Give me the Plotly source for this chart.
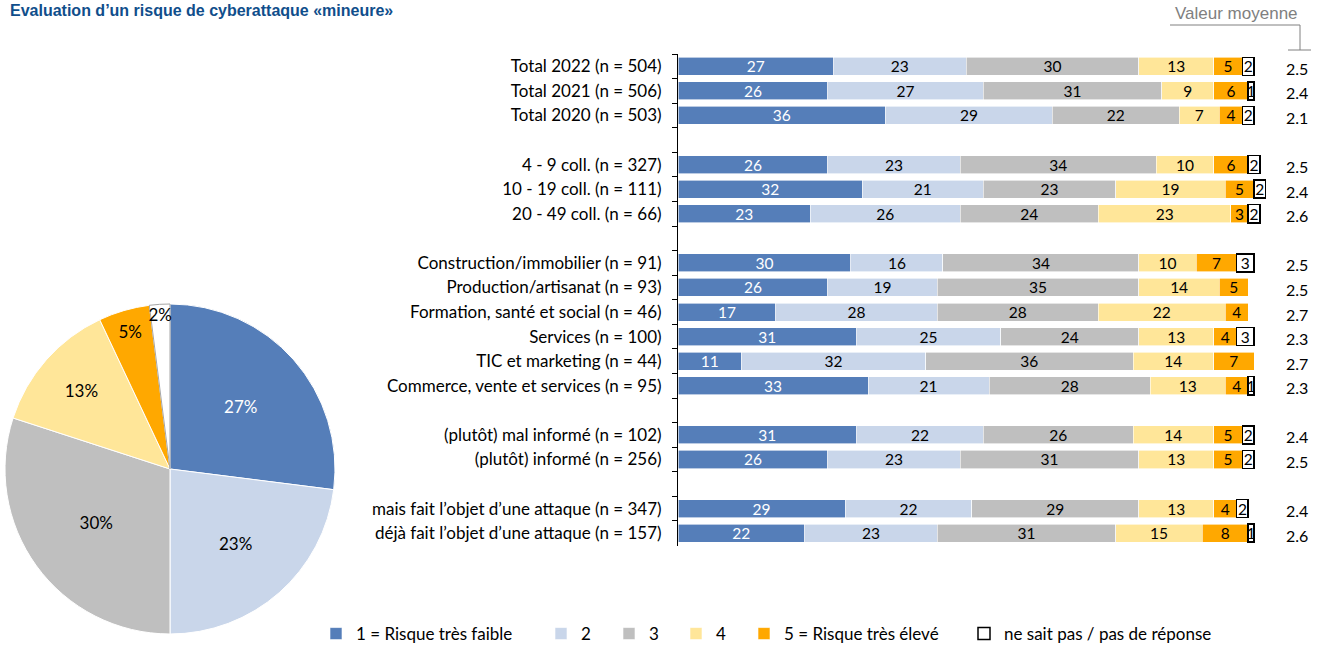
import plotly.graph_objects as go

W, H = 1317, 652

# --- données -------------------------------------------------------------
categories = [
    "Total 2022 (n = 504)", "Total 2021 (n = 506)", "Total 2020 (n = 503)", " ",
    "4 - 9 coll. (n = 327)", "10 - 19 coll. (n = 111)", "20 - 49 coll. (n = 66)", "  ",
    "Construction/immobilier (n = 91)", "Production/artisanat (n = 93)",
    "Formation, santé et social (n = 46)", "Services (n = 100)",
    "TIC et marketing (n = 44)", "Commerce, vente et services (n = 95)", "   ",
    "(plutôt) mal informé (n = 102)", "(plutôt) informé (n = 256)", "    ",
    "mais fait l’objet d’une attaque (n = 347)", "déjà fait l’objet d’une attaque (n = 157)",
]
rows = [c for c in categories if c.strip()]

s1 = [27, 26, 36, 26, 32, 23, 30, 26, 17, 31, 11, 33, 31, 26, 29, 22]
s2 = [23, 27, 29, 23, 21, 26, 16, 19, 28, 25, 32, 21, 22, 23, 22, 23]
s3 = [30, 31, 22, 34, 23, 24, 34, 35, 28, 24, 36, 28, 26, 31, 29, 31]
s4 = [13, 9, 7, 10, 19, 23, 10, 14, 22, 13, 14, 13, 14, 13, 13, 15]
s5 = [5, 6, 4, 6, 5, 3, 7, 5, 4, 4, 7, 4, 5, 5, 4, 8]
s6 = [2, 1, 2, 2, 2, 2, 3, None, None, 3, None, 1, 2, 2, 2, 1]
moyennes = [2.5, 2.4, 2.1, 2.5, 2.4, 2.6, 2.5, 2.5, 2.7, 2.3, 2.7, 2.3, 2.4, 2.5, 2.4, 2.6]

noms = ["1 = Risque très faible", "2", "3", "4", "5 = Risque très élevé",
        "ne sait pas / pas de réponse"]
couleurs = ["#557EB9", "#C9D6EA", "#BFBFBF", "#FFE699", "#FFA800", "#FFFFFF"]
txt_couleurs = ["white", "black", "black", "black", "black", "black"]

pie_valeurs = [27, 23, 30, 13, 5, 2]

FONT = "Lato"
X0, PX_PAR_PCT = 678, 5.76   # début des barres, pixels pour 1 %
XMAX = 102.5                  # certaines lignes arrondies dépassent 100

def px_x(p):
    return p / W

def px_y(p):
    return 1 - p / H

fig = go.Figure()

legend_x = [332, 557, 625, 692, 760, 980]
for i, (serie, nom, col) in enumerate(zip([s1, s2, s3, s4, s5, s6], noms, couleurs)):
    dk = i == 5
    fig.add_trace(go.Bar(
        y=rows, x=serie, orientation="h", name=nom,
        marker=dict(color=col, line=dict(color="black" if dk else "white",
                                         width=1.5 if dk else 0.6)),
        text=serie, texttemplate="%{x}", textposition="inside",
        insidetextanchor="middle", constraintext="none", textangle=0,
        textfont=dict(family=FONT, size=15.5, color=txt_couleurs[i]),
        cliponaxis=False, hoverinfo="skip",
        legend="legend" if i == 0 else f"legend{i + 1}",
    ))

fig.add_trace(go.Pie(
    values=pie_valeurs, labels=noms, sort=False, direction="clockwise",
    domain=dict(x=[px_x(5), px_x(335)], y=[px_y(634), px_y(304)]),
    marker=dict(colors=couleurs,
                line=dict(color=["white"] * 5 + ["#A6A6A6"], width=1)),
    texttemplate="%{value}%", textposition="inside",
    insidetextorientation="horizontal",
    textfont=dict(family=FONT, size=17, color=txt_couleurs),
    showlegend=False, hoverinfo="skip",
))

# valeurs moyennes
for cat, m in zip(rows, moyennes):
    fig.add_annotation(x=px_x(1297), xref="paper", xanchor="center", y=cat, yref="y",
                       yanchor="middle", text=f"{m:.1f}", showarrow=False, yshift=-2,
                       font=dict(family=FONT, size=16, color="black"))

fig.add_annotation(x=px_x(1236), xref="paper", xanchor="center", y=px_y(14), yref="paper",
                   yanchor="middle", text="Valeur moyenne", showarrow=False,
                   font=dict(family="Liberation Sans", size=17, color="#808080"))
for x0, y0, x1, y1 in [(1170, 25, 1300, 25), (1300, 25, 1300, 50), (1288, 50, 1311, 50)]:
    fig.add_shape(type="line", xref="paper", yref="paper",
                  x0=px_x(x0), y0=px_y(y0), x1=px_x(x1), y1=px_y(y1),
                  line=dict(color="#808080", width=1))

fig.add_annotation(x=px_x(8), xref="paper", xanchor="left", y=1, yref="paper",
                   yanchor="top", showarrow=False,
                   text="<b>Evaluation d’un risque de cyberattaque «mineure»</b>",
                   font=dict(family="Liberation Sans", size=16, color="#104E8B"))

legendes = {}
for i, lx in enumerate(legend_x):
    key = "legend" if i == 0 else f"legend{i + 1}"
    legendes[key] = dict(x=px_x(lx - 16), xanchor="left", y=0, yanchor="bottom",
                         orientation="h", bgcolor="rgba(0,0,0,0)",
                         font=dict(family=FONT, size=17, color="black"))

fig.update_layout(
    width=W, height=H,
    margin=dict(l=0, r=0, t=0, b=0),
    paper_bgcolor="white", plot_bgcolor="white",
    barmode="stack", bargap=0.265,
    uniformtext=dict(minsize=15.5, mode="show"),
    font=dict(family=FONT, size=17, color="black"),
    xaxis=dict(domain=[px_x(X0), px_x(X0 + PX_PAR_PCT * XMAX)], range=[0, XMAX],
               visible=False),
    yaxis=dict(domain=[px_y(545.5), px_y(54)], type="category",
               categoryorder="array", categoryarray=categories,
               range=[len(categories) - 0.5, -0.5],
               showline=True, linecolor="black", linewidth=1,
               ticks="outside", tickson="boundaries", ticklen=5,
               tickcolor="black", ticklabelstandoff=12,
               showgrid=False, tickfont=dict(family=FONT, size=17)),
    **legendes,
)

# la page a une marge de 8 px par défaut : on la retire
fig.write_html("out.html", config={"displayModeBar": False},
               post_script="document.body.style.margin='0';")
